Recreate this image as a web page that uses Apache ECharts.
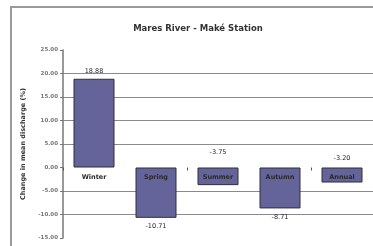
<!DOCTYPE html>
<html>
<head>
<meta charset="utf-8">
<script src="https://cdn.jsdelivr.net/npm/echarts@6/dist/echarts.min.js"></script>
<style>
  html, body { margin: 0; padding: 0; background: #fff; }
  #chart { width: 373px; height: 246px; }
</style>
</head>
<body>
<div id="chart"></div>
<script>
(function () {
    "use strict";

    var seasons = ['Winter', 'Spring', 'Summer', 'Autumn', 'Annual'];
    var changes = [18.88, -10.71, -3.75, -8.71, -3.20];
    var labelSide = ['top', 'bottom', 'top', 'bottom', 'top'];
    var labelGap = [4, 5, 12, 5, 6];

    var dom = document.getElementById("chart");
    var myChart = echarts.init(dom);
    var option = null;

    // grid lines: none at -15, 0 and 25 (ticks from min)
    var gridColors = ['transparent', '#8a8a8a', '#8a8a8a', 'transparent',
        '#8a8a8a', '#8a8a8a', '#8a8a8a', '#8a8a8a', 'transparent'];

    var barData = changes.map(function (v, i) {
        return {
            value: v,
            label: { position: labelSide[i], distance: labelGap[i] }
        };
    });

    // season names sit on the zero line, like the Excel axis
    var nameData = seasons.map(function () { return 0; });

    option = {
        animation: false,
        backgroundColor: '#fff',
        textStyle: { fontFamily: 'DejaVu Sans' },
        graphic: [{
            type: 'rect',
            silent: true,
            z: -1,
            shape: { x: 11, y: 7, width: 420, height: 300 },
            style: { fill: 'none', stroke: '#9a9a9a', lineWidth: 2 }
        }],
        title: {
            text: 'Mares River - Maké Station',
            left: 193,
            textAlign: 'center',
            top: 19,
            textStyle: {
                fontFamily: 'DejaVu Sans',
                fontSize: 8.5,
                fontWeight: 'bold',
                color: '#333'
            }
        },
        grid: {
            left: 63,
            right: 0,
            top: 50,
            bottom: 8
        },
        xAxis: {
            type: 'category',
            data: seasons,
            axisLine: { show: true, onZero: true, lineStyle: { color: 'transparent' } },
            axisTick: { show: true, length: 3, lineStyle: { color: '#555' } },
            axisLabel: { show: false }
        },
        yAxis: {
            type: 'value',
            min: -15,
            max: 25,
            interval: 5,
            name: 'Change in mean discharge (%)',
            nameLocation: 'middle',
            nameGap: 36,
            nameTextStyle: {
                fontSize: 6.5,
                fontWeight: 'bold',
                color: '#333'
            },
            axisLine: { show: true, lineStyle: { color: '#777', width: 1.5 } },
            axisTick: { show: true, length: 3, lineStyle: { color: '#777' } },
            axisLabel: {
                margin: 5,
                fontSize: 5.5,
                fontWeight: 'bold',
                color: '#777',
                formatter: function (v) { return v.toFixed(2); }
            },
            splitLine: {
                show: true,
                lineStyle: { color: gridColors, width: 1.2 }
            }
        },
        series: [
            {
                type: 'bar',
                data: barData,
                barWidth: 41,
                itemStyle: { color: '#64649a', borderColor: '#2f2f3a', borderWidth: 1 },
                label: {
                    show: true,
                    fontSize: 6.5,
                    color: '#222',
                    formatter: function (p) { return p.value.toFixed(2); }
                }
            },
            {
                type: 'bar',
                data: nameData,
                barWidth: 41,
                barGap: '-100%',
                silent: true,
                z: 5,
                itemStyle: { color: 'transparent' },
                label: {
                    show: true,
                    position: 'bottom',
                    distance: 6,
                    fontSize: 6.5,
                    fontWeight: 'bold',
                    color: '#2a2a2a',
                    formatter: function (p) { return p.name; }
                }
            }
        ]
    };

    if (option && typeof option === "object") {
        myChart.setOption(option, true);
    }
})();
</script>
</body>
</html>
